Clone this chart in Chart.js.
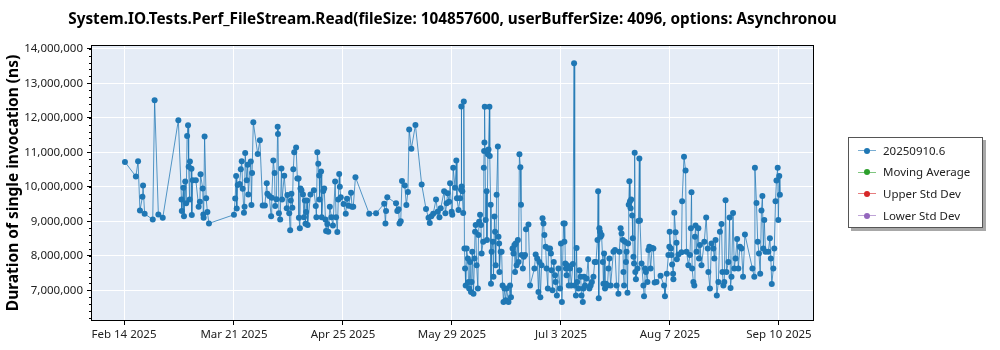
<!DOCTYPE html>
<html>
<head>
<meta charset="utf-8">
<script src="https://cdn.jsdelivr.net/npm/chart.js@4.4.1/dist/chart.umd.min.js"></script>
<style>
html,body{margin:0;padding:0;background:#fff;}
#wrap{position:relative;width:1000px;height:350px;}
#title{position:absolute;left:452.5px;top:9px;transform:translateX(-50%);white-space:nowrap;font:bold 15.3px/18px "Noto Sans",sans-serif;color:#000;}
#legend{position:absolute;left:848px;top:137px;width:133px;height:89px;border:1px solid #555;box-shadow:3px 3px 0 #a8a8a8;background:#fff;font:11.5px "Noto Sans",sans-serif;color:#222;}
.item{position:absolute;left:9px;height:16px;display:flex;align-items:center;white-space:nowrap;}
.icon{position:relative;width:18px;height:16px;margin-right:7px;}
.icon .ln{position:absolute;left:0;right:0;top:8px;height:1px;}
.icon .dt{position:absolute;left:6px;top:5.5px;width:6px;height:6px;border-radius:50%;}
</style>
</head>
<body>
<div id="wrap">
  <canvas id="chart" width="1000" height="350"></canvas>
  <div id="title"></div>
  <div id="legend"></div>
</div>
<script>
const titleText = 'System.IO.Tests.Perf_FileStream.Read(fileSize: 104857600, userBufferSize: 4096, options: Asynchronou';
const yTitle = 'Duration of single invocation (ns)';
const seriesNames = ['20250910.6', 'Moving Average', 'Upper Std Dev', 'Lower Std Dev'];
const seriesColors = ['#1f77b4', '#2ca02c', '#d62728', '#9467bd'];

// x: days after Feb 14 2025
const xTickDays = [0, 35.2, 70.1, 105.0, 139.9, 174.8, 209.7];
const xTickLabels = ['Feb 14 2025', 'Mar 21 2025', 'Apr 25 2025', 'May 29 2025', 'Jul 3 2025', 'Aug 7 2025', 'Sep 10 2025'];
const yTickValues = [7e6, 8e6, 9e6, 10e6, 11e6, 12e6, 13e6, 14e6];

const runDays = [
  0.3, 3.8, 4.5, 5.1, 5.9, 6.1, 6.6, 9.2, 9.8, 11.0,
  12.4, 17.4, 18.4, 18.5, 19.0, 19.2, 19.6, 19.9, 20.2, 20.5,
  20.7, 21.0, 21.1, 21.6, 21.7, 22.0, 23.0, 23.9, 24.3, 24.5,
  25.2, 25.4, 25.5, 25.8, 26.3, 26.7, 27.2, 35.2, 35.6, 35.9,
  36.1, 36.4, 37.0, 37.4, 37.7, 38.0, 38.4, 38.6, 38.8, 39.3,
  39.6, 39.8, 40.6, 40.8, 41.0, 41.4, 42.8, 43.5, 44.4, 45.1,
  45.7, 45.9, 46.5, 47.1, 47.3, 47.8, 48.2, 48.4, 48.8, 49.2,
  49.3, 49.6, 50.0, 50.4, 50.6, 51.3, 52.1, 52.3, 52.9, 53.2,
  53.4, 53.6, 53.9, 54.2, 54.5, 55.1, 55.5, 55.9, 56.0, 56.3,
  56.5, 56.8, 57.3, 57.6, 57.9, 58.1, 58.3, 58.6, 58.8, 59.7,
  60.8, 61.4, 61.6, 61.9, 62.2, 62.5, 62.6, 63.1, 63.3, 63.8,
  64.1, 64.5, 64.7, 65.1, 65.4, 65.9, 66.4, 66.9, 67.6, 67.9,
  68.3, 68.6, 68.9, 69.1, 69.4, 70.3, 71.0, 71.4, 71.9, 72.7,
  73.0, 73.4, 74.1, 78.5, 80.7, 83.3, 83.7, 83.9, 84.3, 87.1,
  87.5, 87.9, 88.2, 88.6, 89.0, 89.9, 90.4, 90.9, 91.3, 92.0,
  93.3, 95.3, 96.7, 97.5, 97.9, 98.4, 99.0, 99.9, 100.4, 101.0,
  101.4, 102.5, 102.9, 103.3, 103.6, 104.1, 104.4, 104.9, 105.1, 105.4,
  106.0, 106.4, 106.6, 107.1, 107.6, 107.9, 108.0, 108.1, 108.3, 108.6,
  108.8, 109.0, 109.2, 109.4, 109.7, 110.1, 110.3, 110.5, 110.8, 111.1,
  111.3, 111.5, 111.9, 112.2, 112.4, 112.6, 112.9, 113.3, 113.5, 113.7,
  114.0, 114.3, 114.5, 115.0, 115.2, 115.3, 115.4, 115.5, 115.8, 116.1,
  116.2, 116.5, 116.7, 117.0, 117.1, 117.4, 117.5, 117.7, 118.1, 118.3,
  118.6, 118.8, 119.0, 119.3, 119.7, 119.9, 120.1, 120.2, 120.6, 120.9,
  121.2, 121.5, 121.8, 122.2, 122.5, 123.1, 123.6, 123.9, 124.4, 124.7,
  125.0, 125.2, 125.4, 125.7, 126.1, 126.3, 126.6, 126.9, 127.1, 127.3,
  127.7, 128.0, 128.4, 128.7, 129.5, 130.0, 131.4, 131.8, 132.3, 132.7,
  133.0, 133.3, 133.7, 134.0, 134.3, 134.6, 135.0, 135.3, 135.7, 135.9,
  136.4, 136.7, 136.9, 137.2, 137.6, 138.0, 138.2, 138.6, 139.1, 139.6,
  139.9, 140.2, 140.7, 141.0, 141.1, 141.3, 141.5, 141.7, 141.9, 142.4,
  142.8, 143.2, 143.7, 144.1, 144.3, 144.7, 144.9, 145.1, 145.5, 145.8,
  146.2, 146.5, 146.9, 147.1, 147.3, 147.6, 148.1, 148.6, 149.0, 149.4,
  149.8, 150.3, 150.7, 151.1, 151.6, 151.8, 152.0, 152.2, 152.4, 152.6,
  152.9, 153.3, 153.5, 153.7, 154.0, 154.3, 154.8, 155.1, 155.4, 155.8,
  156.7, 157.2, 157.7, 158.3, 158.6, 159.0, 159.3, 159.7, 159.9, 160.1,
  160.4, 160.7, 160.9, 161.2, 161.4, 161.6, 161.8, 162.0, 162.2, 162.4,
  162.7, 162.9, 163.1, 163.3, 163.5, 163.7, 163.9, 164.4, 164.7, 165.0,
  165.2, 165.7, 166.3, 166.5, 166.8, 167.1, 167.6, 167.9, 168.2, 168.6,
  169.1, 169.5, 169.9, 170.5, 171.8, 172.9, 173.2, 173.8, 174.3, 174.6,
  174.7, 175.1, 175.3, 175.5, 175.8, 175.9, 176.2, 176.6, 176.9, 177.0,
  177.5, 178.5, 178.7, 179.3, 179.8, 180.1, 180.7, 181.2, 181.5, 181.7,
  181.9, 182.3, 182.6, 182.8, 183.0, 183.3, 183.9, 184.1, 184.4, 184.9,
  185.8, 186.4, 186.9, 187.1, 187.6, 188.1, 188.7, 189.0, 189.4, 189.8,
  190.3, 190.8, 191.3, 191.6, 191.9, 192.2, 192.6, 192.9, 193.5, 193.9,
  194.2, 194.5, 195.0, 195.4, 195.8, 196.3, 196.7, 197.2, 197.7, 198.2,
  198.8, 201.2, 201.8, 202.0, 202.5, 202.9, 203.3, 203.7, 204.1, 204.4,
  204.7, 205.0, 205.4, 206.3, 206.8, 207.1, 207.4, 207.9, 208.2, 208.6,
  208.9, 209.3, 209.5, 209.8, 210.0
];

const runValues = [
  10.72e6, 10.30e6, 10.74e6, 9.31e6, 9.71e6, 10.04e6, 9.22e6, 9.05e6, 12.51e6, 9.20e6,
  9.10e6, 11.93e6, 9.63e6, 9.30e6, 9.97e6, 9.15e6, 10.15e6, 9.52e6, 11.47e6, 11.78e6,
  10.58e6, 9.63e6, 10.73e6, 10.52e6, 9.18e6, 10.19e6, 10.19e6, 9.42e6, 9.57e6, 10.36e6,
  9.95e6, 9.20e6, 9.10e6, 11.46e6, 9.67e6, 9.27e6, 8.94e6, 9.19e6, 9.66e6, 10.31e6,
  9.37e6, 10.05e6, 10.08e6, 10.51e6, 10.74e6, 9.94e6, 9.25e6, 9.42e6, 10.98e6, 10.19e6,
  10.64e6, 9.78e6, 10.73e6, 9.47e6, 10.40e6, 11.87e6, 10.95e6, 11.35e6, 9.46e6, 9.46e6,
  10.10e6, 9.80e6, 9.73e6, 9.15e6, 9.68e6, 10.76e6, 10.40e6, 9.44e6, 9.64e6, 11.74e6,
  11.53e6, 9.23e6, 9.05e6, 10.53e6, 9.63e6, 10.32e6, 9.38e6, 9.76e6, 9.23e6, 8.74e6,
  9.60e6, 9.80e6, 9.39e6, 10.51e6, 11.00e6, 11.14e6, 10.24e6, 10.24e6, 9.10e6, 8.80e6,
  9.95e6, 9.90e6, 9.78e6, 9.12e6, 9.60e6, 8.93e6, 9.27e6, 9.60e6, 8.89e6, 9.78e6,
  9.90e6, 9.44e6, 9.12e6, 11.00e6, 10.67e6, 10.33e6, 9.63e6, 10.44e6, 9.12e6, 9.88e6,
  9.95e6, 9.05e6, 8.72e6, 8.92e6, 8.70e6, 9.42e6, 9.12e6, 8.88e6, 10.15e6, 9.12e6,
  8.69e6, 9.63e6, 10.37e6, 10.00e6, 9.70e6, 9.50e6, 9.22e6, 9.65e6, 9.45e6, 9.83e6,
  9.42e6, 9.42e6, 10.28e6, 9.22e6, 9.23e6, 9.51e6, 8.94e6, 9.30e6, 9.70e6, 9.52e6,
  9.30e6, 9.35e6, 8.94e6, 9.00e6, 10.17e6, 10.04e6, 9.47e6, 9.85e6, 11.66e6, 11.10e6,
  11.79e6, 10.07e6, 9.36e6, 9.10e6, 8.95e6, 9.15e6, 9.22e6, 9.63e6, 9.28e6, 9.12e6,
  9.38e6, 9.87e6, 9.23e6, 9.52e6, 9.81e6, 9.57e6, 10.10e6, 9.28e6, 9.19e6, 10.55e6,
  9.97e6, 10.76e6, 9.67e6, 9.33e6, 9.67e6, 9.92e6, 12.33e6, 10.01e6, 9.87e6, 9.24e6,
  12.47e6, 8.21e6, 7.63e6, 7.14e6, 8.21e6, 7.92e6, 7.24e6, 7.05e6, 7.82e6, 6.95e6,
  7.24e6, 8.12e6, 6.90e6, 7.92e6, 8.70e6, 8.89e6, 7.73e6, 7.05e6, 8.60e6, 8.99e6,
  9.19e6, 8.89e6, 8.07e6, 8.41e6, 10.55e6, 11.04e6, 11.28e6, 12.32e6, 9.04e6, 9.87e6,
  8.46e6, 10.94e6, 11.08e6, 12.32e6, 10.89e6, 9.48e6, 7.19e6, 8.12e6, 8.41e6, 7.39e6,
  9.14e6, 8.70e6, 7.73e6, 9.77e6, 11.17e6, 8.55e6, 8.36e6, 7.53e6, 8.12e6, 8.12e6,
  7.14e6, 6.66e6, 7.05e6, 6.71e6, 7.05e6, 6.66e6, 7.14e6, 6.80e6, 8.21e6, 8.07e6,
  8.31e6, 7.53e6, 8.36e6, 7.73e6, 8.46e6, 7.82e6, 10.94e6, 10.57e6, 9.48e6, 8.02e6,
  7.63e6, 7.97e6, 8.02e6, 8.77e6, 8.91e6, 7.14e6, 7.63e6, 8.04e6, 7.92e6, 6.95e6,
  7.82e6, 6.80e6, 7.73e6, 9.09e6, 8.94e6, 8.60e6, 8.26e6, 7.63e6, 7.05e6, 8.21e6,
  8.21e6, 8.07e6, 7.58e6, 7.00e6, 7.82e6, 7.44e6, 7.24e6, 6.85e6, 7.63e6, 7.05e6,
  8.36e6, 6.66e6, 8.94e6, 8.41e6, 8.94e6, 7.78e6, 7.63e6, 7.44e6, 7.73e6, 7.14e6,
  7.63e6, 7.14e6, 7.76e6, 13.58e6, 7.14e6, 6.85e6, 8.23e6, 7.24e6, 7.05e6, 7.58e6,
  7.39e6, 6.85e6, 6.66e6, 7.05e6, 7.39e6, 7.14e6, 7.34e6, 7.90e6, 7.05e6, 7.14e6,
  7.24e6, 7.39e6, 7.82e6, 7.82e6, 8.46e6, 9.87e6, 6.77e6, 8.80e6, 8.70e6, 8.55e6,
  8.60e6, 7.82e6, 7.19e6, 8.07e6, 7.05e6, 7.19e6, 7.14e6, 7.63e6, 7.92e6, 7.14e6,
  8.12e6, 8.17e6, 7.14e6, 6.90e6, 8.12e6, 8.80e6, 8.65e6, 8.46e6, 7.53e6, 7.14e6,
  8.41e6, 7.82e6, 8.12e6, 6.93e6, 8.36e6, 9.48e6, 10.16e6, 9.58e6, 9.38e6, 9.63e6,
  9.17e6, 8.51e6, 7.97e6, 7.78e6, 10.99e6, 7.53e6, 7.32e6, 7.63e6, 9.01e6, 10.82e6,
  9.02e6, 7.78e6, 7.14e6, 6.83e6, 7.63e6, 7.53e6, 7.24e6, 8.17e6, 8.26e6, 7.63e6,
  8.23e6, 8.21e6, 7.23e6, 7.24e6, 7.42e6, 7.14e6, 6.83e6, 7.48e6, 8.02e6, 8.26e6,
  8.70e6, 8.21e6, 8.02e6, 7.75e6, 7.48e6, 7.32e6, 9.25e6, 8.68e6, 8.38e6, 7.90e6,
  8.04e6, 8.10e6, 9.58e6, 10.87e6, 10.47e6, 8.12e6, 7.73e6, 8.02e6, 8.80e6, 9.84e6,
  7.63e6, 7.24e6, 7.14e6, 8.55e6, 8.88e6, 8.12e6, 8.80e6, 7.92e6, 8.31e6, 7.73e6,
  8.41e6, 9.11e6, 8.21e6, 7.53e6, 7.05e6, 8.36e6, 8.21e6, 7.92e6, 8.46e6, 6.85e6,
  7.24e6, 8.70e6, 8.92e6, 7.53e6, 7.14e6, 7.24e6, 9.61e6, 7.53e6, 7.82e6, 9.11e6,
  7.07e6, 7.39e6, 9.24e6, 7.63e6, 7.92e6, 8.49e6, 7.63e6, 8.26e6, 8.21e6, 7.39e6,
  8.62e6, 7.63e6, 7.39e6, 10.55e6, 9.53e6, 8.41e6, 8.07e6, 7.48e6, 9.31e6, 9.73e6,
  8.21e6, 9.04e6, 8.12e6, 8.12e6, 8.51e6, 7.92e6, 7.18e6, 7.63e6, 8.21e6, 9.58e6,
  10.18e6, 10.55e6, 9.04e6, 10.31e6, 9.77e6
];

const X_MIN = -10.25, X_MAX = 220.6;
const Y_MIN = 6.14e6, Y_MAX = 14.08e6;
const FONT = '"Noto Sans", sans-serif';

const plotFrame = {
  id: 'plotFrame',
  beforeDraw(chart){
    const {ctx, chartArea: a} = chart;
    ctx.save();
    ctx.fillStyle = '#e5ecf6';
    ctx.fillRect(a.left, a.top, a.right - a.left, a.bottom - a.top);
    ctx.restore();
  },
  afterDraw(chart){
    const {ctx, chartArea: a} = chart;
    const y = chart.scales.y;
    ctx.save();
    ctx.strokeStyle = '#000';
    ctx.lineWidth = 1;
    ctx.strokeRect(Math.round(a.left) - 0.5, Math.round(a.top) - 0.5, Math.round(a.right - a.left) + 1, Math.round(a.bottom - a.top) + 1);
    // minor ticks on y
    ctx.beginPath();
    for(let v = 6.2e6; v <= Y_MAX; v += 2e5){
      const p = Math.round(y.getPixelForValue(v)) + 0.5;
      ctx.moveTo(a.left - 3, p); ctx.lineTo(a.left, p);
    }
    ctx.stroke();
    ctx.restore();
  }
};

const datasets = seriesNames.map((name, i) => ({
  label: name,
  data: i === 0 ? runDays.map((d, k) => ({x: d, y: runValues[k]})) : [],
  borderColor: i === 0 ? 'rgba(31,119,180,0.75)' : seriesColors[i],
  backgroundColor: seriesColors[i],
  pointBackgroundColor: seriesColors[i],
  borderWidth: 1,
  pointRadius: 3,
  pointBorderWidth: 0,
  tension: 0
}));

document.getElementById('title').textContent = titleText;

new Chart(document.getElementById('chart'), {
  type: 'line',
  data: { datasets },
  options: {
    responsive: false,
    animation: false,
    layout: { padding: { left: 0, right: 187, top: 46, bottom: 0 } },
    plugins: {
      legend: { display: false },
      tooltip: { enabled: false },
      title: { display: false }
    },
    scales: {
      x: {
        type: 'linear', min: X_MIN, max: X_MAX,
        afterBuildTicks: s => { s.ticks = xTickDays.map(v => ({value: v})); },
        afterFit: s => { s.height = 30; },
        ticks: { callback: (v, i) => xTickLabels[i], color: '#222', font: { family: FONT, size: 11.5 }, maxRotation: 0, autoSkip: false, padding: 3 },
        grid: { color: '#fff', lineWidth: 1, tickColor: '#000', tickLength: 5 },
        border: { display: false }
      },
      y: {
        type: 'linear', min: Y_MIN, max: Y_MAX,
        afterBuildTicks: s => { s.ticks = yTickValues.map(v => ({value: v})); },
        afterFit: s => { s.width = 92; },
        ticks: { callback: v => v.toLocaleString('en-US'), color: '#222', font: { family: FONT, size: 11.5 }, padding: 4 },
        grid: { color: '#fff', lineWidth: 1, tickColor: '#000', tickLength: 5 },
        border: { display: false },
        title: { display: true, text: yTitle, color: '#000', font: { family: FONT, size: 15.5, weight: 'bold' }, padding: { top: 4, bottom: 0 } }
      }
    }
  },
  plugins: [plotFrame]
});

// legend box
const legendEl = document.getElementById('legend');
seriesNames.forEach((name, i) => {
  const row = document.createElement('div');
  row.className = 'item';
  row.style.top = (4 + i * 21.7) + 'px';
  const icon = document.createElement('span'); icon.className = 'icon';
  const ln = document.createElement('span'); ln.className = 'ln'; ln.style.background = seriesColors[i]; ln.style.opacity = '0.6';
  const dt = document.createElement('span'); dt.className = 'dt'; dt.style.background = seriesColors[i];
  icon.appendChild(ln); icon.appendChild(dt);
  const txt = document.createElement('span'); txt.textContent = name;
  row.appendChild(icon); row.appendChild(txt);
  legendEl.appendChild(row);
});
</script>
</body>
</html>
